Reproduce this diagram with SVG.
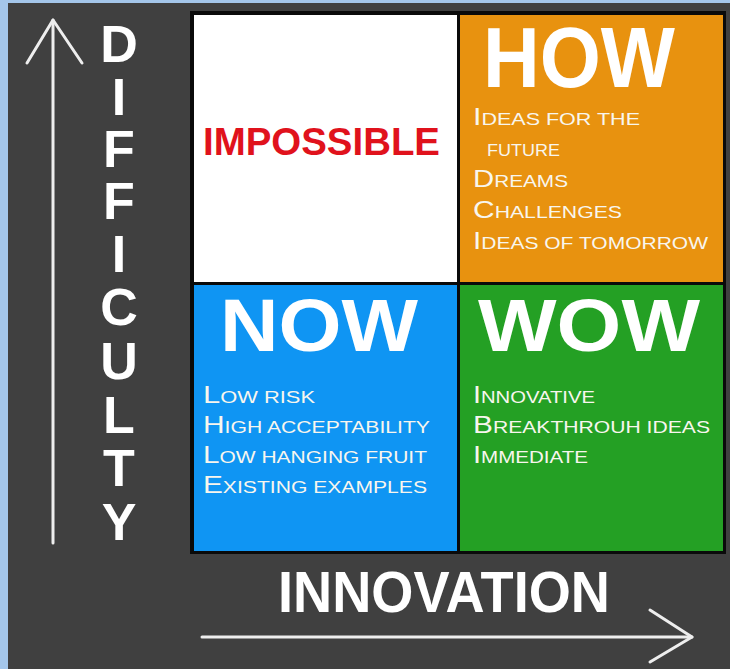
<svg xmlns="http://www.w3.org/2000/svg" width="730" height="669" viewBox="0 0 730 669">
<style>
.big{font-family:"Liberation Sans",Arial,sans-serif;font-weight:bold;fill:#ffffff}
.lst{font-family:"Liberation Sans",Arial,sans-serif;font-size:17px;fill:#f8f6ee}
.cap{font-size:24px}
.axis{fill:none;stroke:#eeeeee;stroke-width:3;stroke-linecap:round;stroke-linejoin:round}
.dl{font-family:"Liberation Sans",Arial,sans-serif;font-weight:bold;font-size:52px;fill:#ffffff;text-anchor:middle}
</style>
<rect x="0" y="0" width="730" height="669" fill="#a4c6ea"/>
<rect x="8" y="3" width="722" height="666" fill="#404040"/>
<rect x="190" y="11" width="536" height="543" fill="#0a0a0a"/>

<g id="impossible">
<rect x="194" y="15" width="263" height="267" fill="#ffffff"/>
<text class="big" x="203" y="155" font-size="38" style="fill:#e0121c" textLength="237" lengthAdjust="spacingAndGlyphs">IMPOSSIBLE</text>
</g>

<g id="how">
<rect x="460" y="15" width="263" height="267" fill="#e8920f"/>
<text class="big" x="483" y="87" font-size="86" textLength="192" lengthAdjust="spacingAndGlyphs">HOW</text>
<text class="lst" x="473" y="125" textLength="167" lengthAdjust="spacingAndGlyphs"><tspan class="cap">I</tspan>DEAS FOR THE</text>
<text class="lst" x="487" y="156" textLength="73" lengthAdjust="spacingAndGlyphs">FUTURE</text>
<text class="lst" x="473" y="187" textLength="95" lengthAdjust="spacingAndGlyphs"><tspan class="cap">D</tspan>REAMS</text>
<text class="lst" x="473" y="218" textLength="149" lengthAdjust="spacingAndGlyphs"><tspan class="cap">C</tspan>HALLENGES</text>
<text class="lst" x="473" y="249" textLength="235" lengthAdjust="spacingAndGlyphs"><tspan class="cap">I</tspan>DEAS OF TOMORROW</text>
</g>

<g id="now">
<rect x="194" y="285" width="263" height="266" fill="#0f95f3"/>
<text class="big" x="220" y="351" font-size="74" textLength="198" lengthAdjust="spacingAndGlyphs">NOW</text>
<text class="lst" x="203" y="403" textLength="112" lengthAdjust="spacingAndGlyphs"><tspan class="cap">L</tspan>OW RISK</text>
<text class="lst" x="203" y="433" textLength="227" lengthAdjust="spacingAndGlyphs"><tspan class="cap">H</tspan>IGH ACCEPTABILITY</text>
<text class="lst" x="203" y="463" textLength="224" lengthAdjust="spacingAndGlyphs"><tspan class="cap">L</tspan>OW HANGING FRUIT</text>
<text class="lst" x="203" y="493" textLength="224" lengthAdjust="spacingAndGlyphs"><tspan class="cap">E</tspan>XISTING EXAMPLES</text>
</g>

<g id="wow">
<rect x="460" y="285" width="263" height="266" fill="#24a024"/>
<text class="big" x="478" y="351" font-size="74" textLength="222" lengthAdjust="spacingAndGlyphs">WOW</text>
<text class="lst" x="473" y="403" textLength="122" lengthAdjust="spacingAndGlyphs"><tspan class="cap">I</tspan>NNOVATIVE</text>
<text class="lst" x="473" y="433" textLength="237" lengthAdjust="spacingAndGlyphs"><tspan class="cap">B</tspan>REAKTHROUH IDEAS</text>
<text class="lst" x="473" y="463" textLength="115" lengthAdjust="spacingAndGlyphs"><tspan class="cap">I</tspan>MMEDIATE</text>
</g>

<g id="difficulty-label">
<text class="dl" x="119" y="62">D<tspan x="119" y="115">I</tspan><tspan x="119" y="167">F</tspan><tspan x="119" y="219">F</tspan><tspan x="119" y="272">I</tspan><tspan x="119" y="325">C</tspan><tspan x="119" y="379">U</tspan><tspan x="119" y="433">L</tspan><tspan x="119" y="486">T</tspan><tspan x="119" y="540">Y</tspan></text>
</g>

<g id="innovation-label">
<text class="big" x="278" y="612" font-size="57" textLength="332" lengthAdjust="spacingAndGlyphs">INNOVATION</text>
</g>

<g id="connectors">
<line class="axis" x1="53" y1="543" x2="53" y2="20"/>
<polyline class="axis" points="27,63 53,20 82,63"/>
<line class="axis" x1="202" y1="637" x2="692" y2="637"/>
<polyline class="axis" points="650,610 692,637 650,662"/>
</g>
</svg>
